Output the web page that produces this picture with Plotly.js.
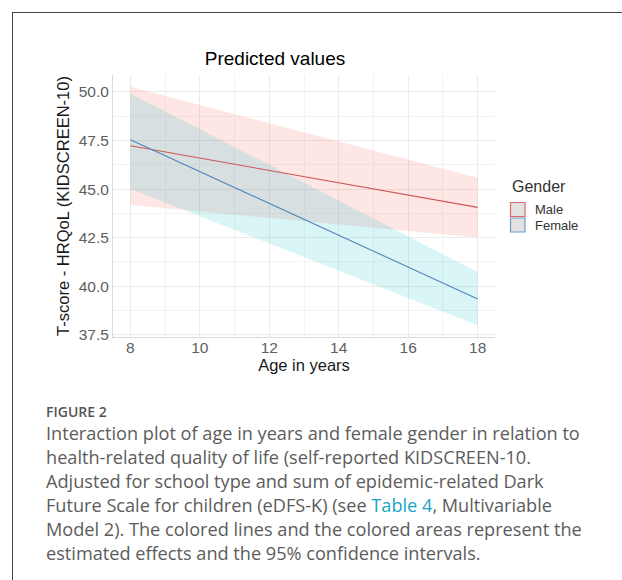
<!DOCTYPE html>
<html><head><meta charset="utf-8">
<script src="https://cdn.plot.ly/plotly-3.0.1.min.js"></script>
<style>
html,body{margin:0;padding:0;background:#fff;}
#wrap{position:relative;width:622px;height:580px;overflow:hidden;background:#fff;}
#chart{position:absolute;left:0;top:0;width:622px;height:580px;}
#frame{position:absolute;left:12px;top:12px;width:700px;height:700px;border-left:1px solid #444;border-top:1px solid #444;pointer-events:none;}
#figlabel{position:absolute;left:46px;top:404px;font-family:'Open Sans',Lato,sans-serif;font-size:14px;font-weight:600;color:#555;line-height:16px;white-space:nowrap;}
#caption{position:absolute;left:46px;top:421px;font-family:'Open Sans',Lato,sans-serif;font-size:16.5px;line-height:24px;color:#5c5c5c;white-space:nowrap;}
#caption a{color:#1aa3c6;text-decoration:none;}
</style></head>
<body><div id="wrap"><div id="chart"></div><div id="frame"></div>
<div id="figlabel">FIGURE 2</div>
<div id="caption"><span id="l1">Interaction plot of age in years and female gender in relation to</span><br>health-related quality of life (self-reported KIDSCREEN-10.<br>Adjusted for school type and sum of epidemic-related Dark<br>Future Scale for children (eDFS-K) (see <a>Table 4</a>, Multivariable<br>Model 2). The colored lines and the colored areas represent the<br>estimated effects and the 95% confidence intervals.</div>
</div>
<script>
// ---- data ----
const ages = [8, 18];
const genders = ['Male', 'Female'];
const maleFit = [47.23, 44.06];
const maleLower = [44.18, 42.51];
const maleUpper = [50.26, 45.58];
const femaleFit = [47.54, 39.35];
const femaleLower = [45.01, 38.00];
const femaleUpper = [49.92, 40.73];
const xTicks = [8, 10, 12, 14, 16, 18];
const yTicks = [37.5, 40, 42.5, 45, 47.5, 50];

// fit caption width to the reference (first line ~534px wide)
(function () {
  const cap = document.getElementById('caption');
  const l1 = document.getElementById('l1');
  const w = l1.getBoundingClientRect().width;
  if (w > 0) {
    const fs = 16.5 * 534 / w;
    cap.style.fontSize = fs.toFixed(2) + 'px';
  }
})();

// ---- styles ----
const FONT = "'Liberation Sans', Arial, sans-serif";
const maleFill = 'rgba(248,118,109,0.18)';
const femaleFill = 'rgba(0,191,196,0.15)';
const maleLine = '#CC5855';
const femaleLine = '#5086B8';

function ribbon(xs, up, lo) {
  return {x: xs.concat(xs.slice().reverse()), y: up.concat(lo.slice().reverse())};
}
const mR = ribbon(ages, maleUpper, maleLower);
const fR = ribbon(ages, femaleUpper, femaleLower);

const traces = [
  {x: mR.x, y: mR.y, type: 'scatter', mode: 'lines', fill: 'toself', fillcolor: maleFill,
   line: {width: 0}, hoverinfo: 'skip', showlegend: false},
  {x: fR.x, y: fR.y, type: 'scatter', mode: 'lines', fill: 'toself', fillcolor: femaleFill,
   line: {width: 0}, hoverinfo: 'skip', showlegend: false},
  {x: ages, y: maleFit, type: 'scatter', mode: 'lines', name: genders[0],
   line: {color: maleLine, width: 1.1}, showlegend: false},
  {x: ages, y: femaleFit, type: 'scatter', mode: 'lines', name: genders[1],
   line: {color: femaleLine, width: 1.1}, showlegend: false}
];

// plot area in pixels
const L = 113, T = 75, W = 382, H = 262;
const px = x => (x - L) / W;
const py = y => (T + H - y) / H;

const shapes = [
  {type: 'rect', xref: 'paper', yref: 'paper', x0: px(510.5), x1: px(525), y0: py(202.5), y1: py(216.5),
   fillcolor: '#E2E2E2', line: {color: '#E06A66', width: 1.2}},
  {type: 'rect', xref: 'paper', yref: 'paper', x0: px(510.5), x1: px(525), y0: py(218), y1: py(232),
   fillcolor: '#E2E2E2', line: {color: '#6E9CC8', width: 1.2}}
];
const annotations = [
  {text: 'Gender', xref: 'paper', yref: 'paper', x: px(510), y: py(186.7), xanchor: 'left', yanchor: 'middle',
   showarrow: false, font: {family: FONT, size: 16, color: '#333'}},
  {text: genders[0], xref: 'paper', yref: 'paper', x: px(532.5), y: py(209.5), xanchor: 'left', yanchor: 'middle',
   showarrow: false, font: {family: FONT, size: 13, color: '#333'}},
  {text: genders[1], xref: 'paper', yref: 'paper', x: px(532.5), y: py(225), xanchor: 'left', yanchor: 'middle',
   showarrow: false, font: {family: FONT, size: 13, color: '#333'}}
];

const layout = {
  width: 622, height: 580,
  margin: {l: L, r: 622 - L - W, t: T, b: 580 - T - H, pad: 0},
  paper_bgcolor: 'rgba(0,0,0,0)', plot_bgcolor: '#fff',
  font: {family: FONT, color: '#4D4D4D'},
  title: {text: 'Predicted values', font: {family: FONT, size: 19, color: '#000'},
          x: 275 / 622, xref: 'container', xanchor: 'center',
          y: 1 - 58.5 / 580, yref: 'container', yanchor: 'middle'},
  xaxis: {range: [7.5, 18.5], tickmode: 'array', tickvals: xTicks, ticks: '', ticklabelstandoff: -4,
          showgrid: true, gridcolor: '#EBEBEB', gridwidth: 1, zeroline: false,
          showline: true, linecolor: '#DADADA', linewidth: 1,
          tickfont: {family: FONT, size: 15.5, color: '#5E5E5E'},
          minor: {tickvals: [9, 11, 13, 15, 17], showgrid: true, gridcolor: '#F3F3F3', gridwidth: 1, ticks: ''},
          title: {text: 'Age in years', font: {family: FONT, size: 16.5, color: '#1a1a1a'}, standoff: 3}},
  yaxis: {range: [37.39, 50.87], tickmode: 'array', tickvals: yTicks, tickformat: '.1f', ticks: '',
          showgrid: true, gridcolor: '#EBEBEB', gridwidth: 1, zeroline: false,
          showline: true, linecolor: '#DADADA', linewidth: 1,
          tickfont: {family: FONT, size: 15.5, color: '#5E5E5E'},
          minor: {tickvals: [38.75, 41.25, 43.75, 46.25, 48.75], showgrid: true, gridcolor: '#F3F3F3', gridwidth: 1, ticks: ''},
          title: {text: 'T-score - HRQoL (KIDSCREEN-10)', font: {family: FONT, size: 16.5, color: '#1a1a1a'}, standoff: 4}},
  shapes: shapes,
  annotations: annotations,
  showlegend: false
};

Plotly.newPlot('chart', traces, layout, {displayModeBar: false, staticPlot: true});
</script>
</body></html>
